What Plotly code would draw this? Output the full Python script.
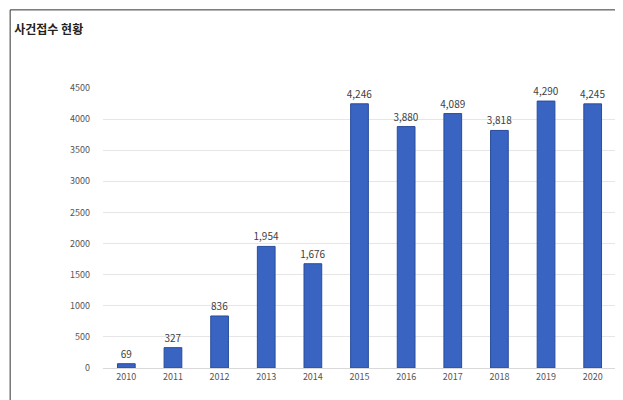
import plotly.graph_objects as go

years = ['2010', '2011', '2012', '2013', '2014', '2015', '2016', '2017', '2018', '2019', '2020']
cases = [69, 327, 836, 1954, 1676, 4246, 3880, 4089, 3818, 4290, 4245]
labels = [f'{v:,}' for v in cases]

fig = go.Figure()

fig.add_trace(go.Bar(
    x = years,
    y = cases,
    text = labels,
    textposition = 'outside',
    constraintext = 'none',
    textfont = dict(size = 10, color = '#404040'),
    width = 0.38,
    marker = dict(color = '#3a64c2', line = dict(color = '#2a4c9a', width = 1)),
    cliponaxis = False
))

fig.update_layout(
    width = 623,
    height = 400,
    paper_bgcolor = 'white',
    plot_bgcolor = 'white',
    font = dict(family = 'Noto Sans CJK KR', color = '#555555'),
    title = dict(text = '<b>사건접수 현황</b>', x = 0.01, y = 0.955, font = dict(size = 12, color = '#222222')),
    margin = dict(l = 95, r = 15, t = 80, b = 40),
    showlegend = False,
    uniformtext = dict(minsize = 10, mode = 'show'),
    shapes = [dict(type = 'rect', xref = 'paper', yref = 'paper', x0 = -0.181, x1 = 1.025, y0 = -0.129, y1 = 1.279,
                   line = dict(color = '#333333', width = 1))]
)

fig.update_xaxes(tickfont = dict(size = 9, color = '#555555'), showline = True, linecolor = '#d9d9d9')
fig.update_yaxes(range = [0, 4500], dtick = 500, tickfont = dict(size = 9, color = '#555555'),
                 gridcolor = '#e6e6e6', zeroline = False, ticklabelstandoff = 12)

fig.write_html('out.html')
